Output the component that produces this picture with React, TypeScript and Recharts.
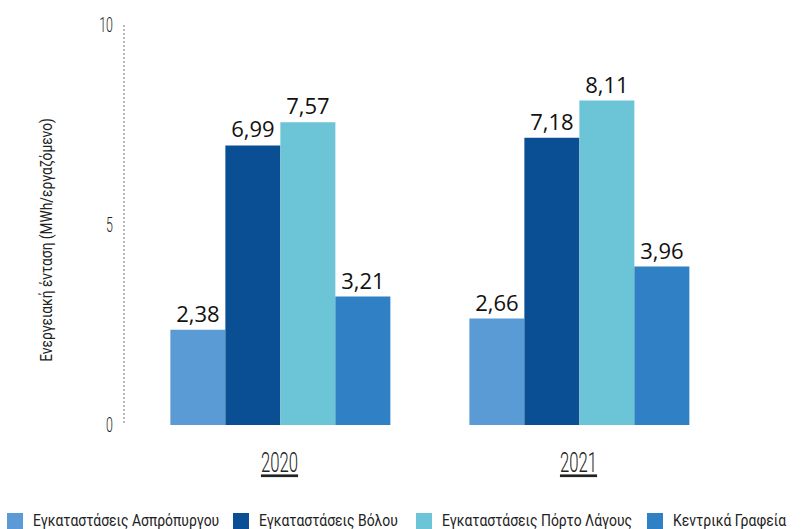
import React from 'react';
import { BarChart, Bar, XAxis, YAxis, LabelList } from 'recharts';

const years = ['2020', '2021'];
const aspropyrgos = [2.38, 2.66];
const volos = [6.99, 7.18];
const portoLagos = [7.57, 8.11];
const headOffices = [3.21, 3.96];
const yTicks = [0, 5, 10];

const seriesNames = [
  'Εγκαταστάσεις Ασπρόπυργου',
  'Εγκαταστάσεις Βόλου',
  'Εγκαταστάσεις Πόρτο Λάγους',
  'Κεντρικά Γραφεία',
];
const seriesKeys = ['asp', 'vol', 'pl', 'hq'];
const colors = ['#5B9BD5', '#0A4F94', '#6CC5D6', '#2F80C4'];

const data = years.map((y, i) => ({
  year: y,
  asp: aspropyrgos[i],
  vol: volos[i],
  pl: portoLagos[i],
  hq: headOffices[i],
}));

const narrow = 'Roboto, "DejaVu Sans", sans-serif';
const labelFont = '"Open Sans", "Noto Sans", sans-serif';

const fmt = (v: any) => String(v).replace('.', ',');

const YearTick = (props: any) => {
  const { x, y, payload } = props;
  return (
    <g transform={`translate(${x},${y + 39}) scale(0.62,1)`}>
      <text x={0} y={0} textAnchor="middle" fontFamily={narrow} fontWeight={300} fontSize={27} fill="#222" textDecoration="underline">
        {payload.value}
      </text>
    </g>
  );
};

const YTick = (props: any) => {
  const { x, y, payload } = props;
  return (
    <g transform={`translate(${x},${y + 7}) scale(0.62,1)`}>
      <text x={0} y={0} textAnchor="end" fontFamily={narrow} fontWeight={300} fontSize={20} fill="#222">
        {payload.value}
      </text>
    </g>
  );
};

const YLabel = (props: any) => {
  const { viewBox } = props;
  const cx = viewBox.x - 17;
  const cy = viewBox.y + viewBox.height / 2 + 15;
  return (
    <g transform={`translate(${cx},${cy}) rotate(-90) scale(0.86,1)`}>
      <text x={0} y={0} textAnchor="middle" dominantBaseline="central" fontFamily={narrow} fontSize={16} fill="#222">
        Ενεργειακή ένταση (MWh/εργαζόμενο)
      </text>
    </g>
  );
};

const legendSquares = [7, 233, 416, 647];

export default function App() {
  return (
    <div style={{ position: 'absolute', left: 0, top: 0, width: 801, height: 529, background: '#fff', overflow: 'hidden' }}>
      <BarChart
        width={801}
        height={529}
        data={data}
        margin={{ top: 25, right: 73, bottom: 74, left: 64 }}
        barCategoryGap="13.5%"
        barGap={0}
      >
        <XAxis
          dataKey="year"
          axisLine={false}
          tickLine={false}
          tick={<YearTick />}
          padding={{ left: 6, right: 0 }}
          interval={0}
        />
        <YAxis
          domain={[0, 10]}
          ticks={yTicks}
          width={60}
          axisLine={{ stroke: '#777', strokeDasharray: '2 2', strokeWidth: 1 }}
          tickLine={false}
          tick={<YTick />}
          tickMargin={5}
          label={<YLabel />}
        />
        {seriesKeys.map((k, i) => (
          <Bar key={k} dataKey={k} name={seriesNames[i]} fill={colors[i]} isAnimationActive={false}>
            <LabelList
              dataKey={k}
              position="top"
              offset={8}
              formatter={fmt}
              style={{ fontFamily: labelFont, fontSize: 22, fill: '#111' }}
            />
          </Bar>
        ))}
      </BarChart>
      <div style={{ position: 'absolute', left: 0, top: 513, width: 801, height: 16 }}>
        {seriesNames.map((n, i) => (
          <div key={n} style={{ position: 'absolute', left: legendSquares[i], top: 0, height: 16, display: 'flex', alignItems: 'center' }}>
            <div style={{ width: 16, height: 16, background: colors[i], flex: 'none' }} />
            <span
              style={{
                marginLeft: 10,
                fontFamily: narrow,
                fontSize: 16,
                lineHeight: '16px',
                color: '#222',
                whiteSpace: 'nowrap',
                display: 'inline-block',
                transform: 'scaleX(0.87)',
                transformOrigin: 'left center',
              }}
            >
              {n}
            </span>
          </div>
        ))}
      </div>
    </div>
  );
}
